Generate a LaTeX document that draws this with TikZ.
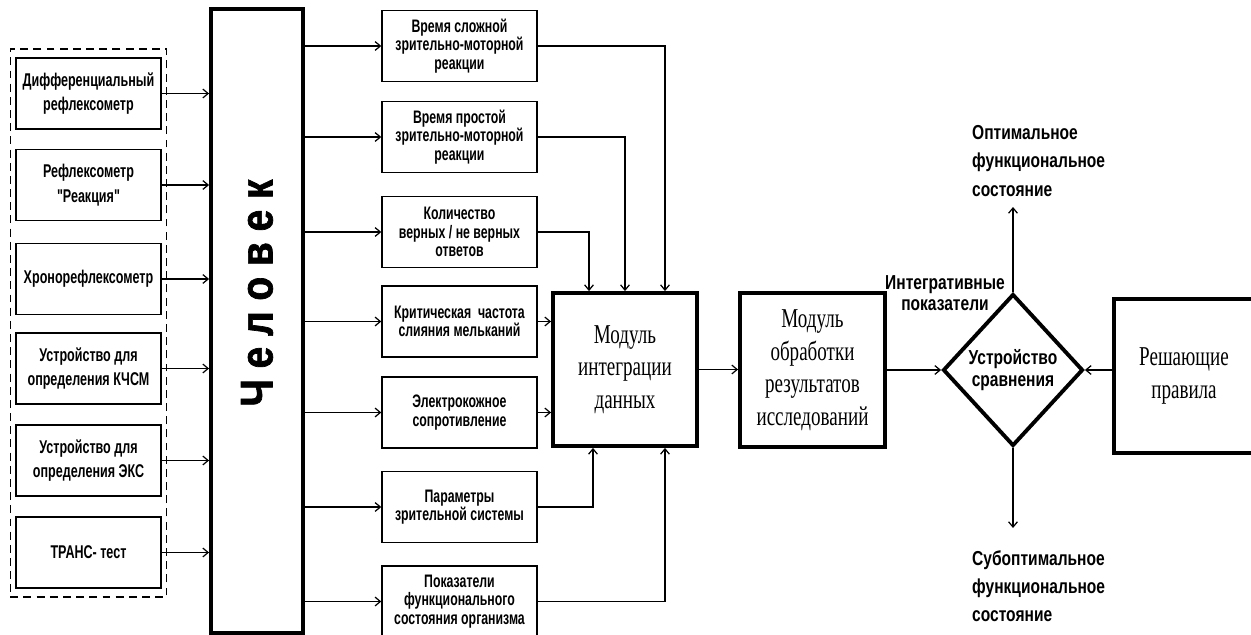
\documentclass[tikz,border=0pt]{standalone}
\usepackage{fontspec}
\setmainfont{Liberation Serif}
\newfontfamily\narrowsans[FakeStretch=0.68]{Liberation Sans}
\newfontfamily\labelsans[FakeStretch=0.77]{Liberation Sans}
\newfontfamily\narrowserif[FakeStretch=0.7]{Liberation Serif}
\newfontfamily\heavysans[FakeStretch=0.85,FakeBold=1.5]{Liberation Sans}
\usetikzlibrary{arrows.meta,shapes.geometric,fit}

\tikzset{
  arr/.style={-{Straight Barb[length=3pt,width=5pt]}, line width=0.7pt},
  devbox/.style={draw, line width=0.8pt, minimum width=2.9cm, minimum height=1.42cm,
    align=center, inner sep=1pt, font=\narrowsans\bfseries\fontsize{10.5}{14}\selectfont},
  parambox/.style={devbox, minimum width=3.1cm,
    font=\narrowsans\bfseries\fontsize{10.3}{10.6}\selectfont},
  modbox/.style={draw, line width=2.2pt, align=center,
    font=\narrowserif\fontsize{15.5}{18.5}\selectfont},
  lbl/.style={align=left, font=\labelsans\bfseries\fontsize{11.5}{16}\selectfont},
}

\begin{document}
\begin{tikzpicture}[x=0.02cm, y=-0.02cm]
\useasboundingbox (0,0) rectangle (1251,635);

\node[devbox] (d1) at (88.5,93.5) {Дифференциальный\\рефлексометр};
\node[devbox] (d2) at (88.5,185) {Рефлексометр\\"Реакция"};
\node[devbox] (d3) at (88.5,279) {Хронорефлексометр};
\node[devbox] (d4) at (88.5,368.5) {Устройство для\\определения КЧСМ};
\node[devbox] (d5) at (88.5,460.5) {Устройство для\\определения ЭКС};
\node[devbox] (d6) at (88.5,552.5) {ТРАНС- тест};
\node[draw, dash pattern=on 4.5pt off 3pt, line width=0.8pt, inner xsep=0.1cm,
  inner ysep=0.17cm, fit=(d1)(d6)] (grp) {};

\node[draw, line width=2.2pt, minimum width=1.84cm, minimum height=12.48cm] (chel) at (257,321) {};
\node[rotate=90, font=\heavysans\bfseries\fontsize{26}{28}\selectfont] (cheltext) at (257,293) {Ч е л о в е к};

\node[parambox] (m1) at (459.5,46) {Время сложной\\зрительно-моторной\\реакции};
\node[parambox] (m2) at (459.5,137) {Время простой\\зрительно-моторной\\реакции};
\node[parambox] (m3) at (459.5,232) {Количество\\верных / не верных\\ответов};
\node[parambox] (m4) at (459.5,321.5) {Критическая~~частота\\слияния мельканий};
\node[parambox] (m5) at (459.5,412.5) {Электрокожное\\сопротивление};
\node[parambox] (m6) at (459.5,507) {Параметры\\зрительной системы};
\node[parambox] (m7) at (459.5,601.5) {Показатели\\функционального\\состояния организма};

\node[modbox, minimum width=2.88cm, minimum height=3.06cm] (integ) at (625,369.5) {Модуль\\интеграции\\данных};
\node[modbox, minimum width=2.9cm, minimum height=3.08cm] (obr) at (812.5,370) {Модуль\\обработки\\результатов\\исследований};
\node[draw, diamond, line width=2.2pt, minimum width=2.8cm, minimum height=3.04cm, inner sep=0pt,
  align=center, font=\labelsans\bfseries\fontsize{11.5}{13}\selectfont] (cmp) at (1013,370) {Устройство\\сравнения};
\node[modbox, minimum width=2.8cm, minimum height=3.08cm] (rules) at (1184,376) {Решающие\\правила};

\node[lbl, anchor=west] (opt) at (966,161) {Оптимальное\\функциональное\\состояние};
\node[lbl, anchor=west] (subopt) at (966,586) {Субоптимальное\\функциональное\\состояние};
\node[lbl, align=center, font=\labelsans\bfseries\fontsize{11.5}{12}\selectfont] (intlbl) at (945,293) {Интегративные\\показатели};
\coordinate (optend) at (1013,207);
\coordinate (subend) at (1013,528);

\foreach \n in {1,...,6}
  \draw[arr] (d\n.east) -- (d\n.east -| chel.west);
\foreach \n in {1,...,7}
  \draw[arr] (chel.east |- m\n.west) -- (m\n.west);

\draw[arr] (m1.east) -| ([xshift=0.8cm]integ.north);
\draw[arr] (m2.east) -| (integ.north);
\draw[arr] (m3.east) -| ([xshift=-0.72cm]integ.north);
\draw[arr] (m4.east) -- (m4.east -| integ.west);
\draw[arr] (m5.east) -- (m5.east -| integ.west);
\draw[arr] (m6.east) -| ([xshift=-0.64cm]integ.south);
\draw[arr] (m7.east) -| ([xshift=0.8cm]integ.south);

\draw[arr] (integ.east) -- (integ.east -| obr.west);
\draw[arr] (obr.east) -- (cmp.west);
\draw[arr] (rules.west |- cmp.east) -- (cmp.east);
\draw[arr] (cmp.north) -- (optend);
\draw[arr] (cmp.south) -- (subend);
\end{tikzpicture}
\end{document}
